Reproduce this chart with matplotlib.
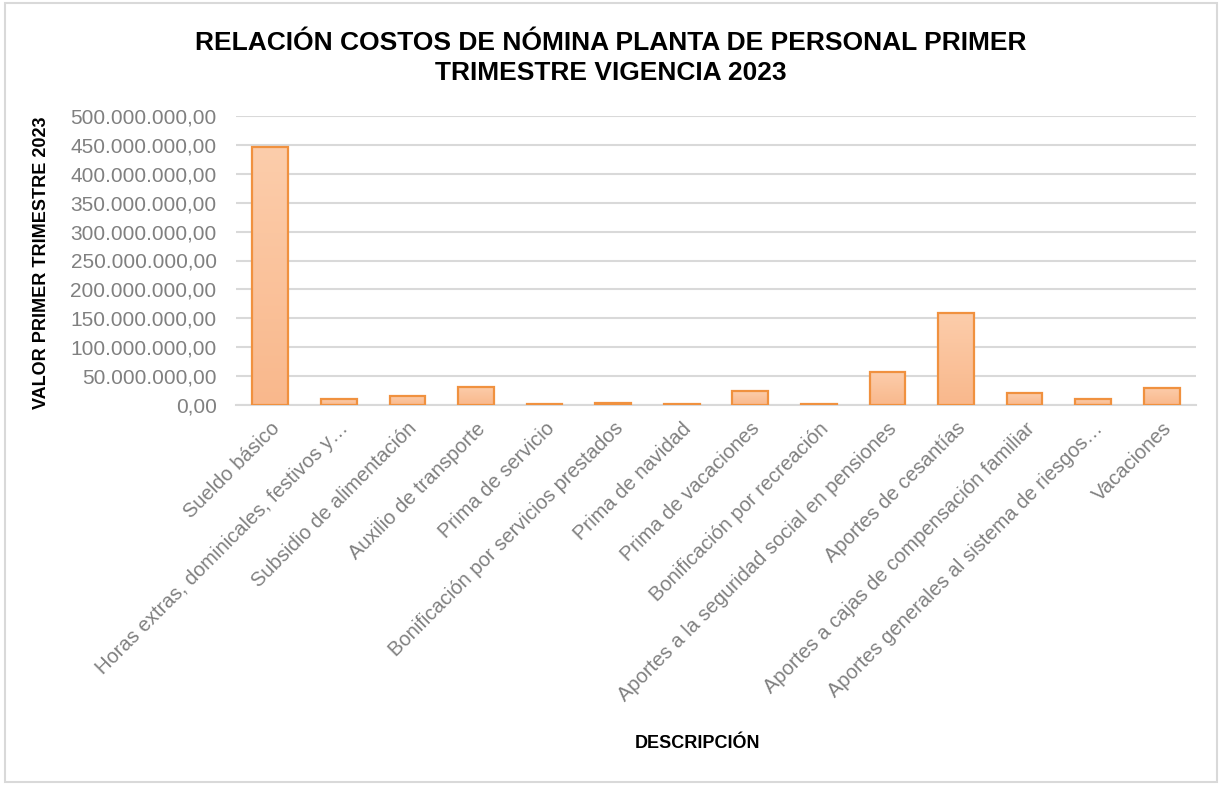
import numpy as np
import matplotlib.pyplot as plt
from matplotlib.ticker import FuncFormatter
from matplotlib.patches import Rectangle
from matplotlib.colors import LinearSegmentedColormap

plt.rcParams['font.family'] = ['Liberation Sans', 'DejaVu Sans']

# Conceptos de nómina (etiquetas tal como aparecen en el gráfico)
categorias = [
    "Sueldo básico",
    "Horas extras, dominicales, festivos y…",
    "Subsidio de alimentación",
    "Auxilio de transporte",
    "Prima de servicio",
    "Bonificación por servicios prestados",
    "Prima de navidad",
    "Prima de vacaciones",
    "Bonificación por recreación",
    "Aportes a la seguridad social en pensiones",
    "Aportes de cesantías",
    "Aportes a cajas de compensación familiar",
    "Aportes generales al sistema de riesgos…",
    "Vacaciones",
]

# Valores estimados (pesos)
valores = [446e6, 10e6, 16e6, 32e6, 1.5e6, 3e6, 1.2e6, 24e6,
           1e6, 57e6, 160e6, 20e6, 10e6, 30e6]

y_ticks = np.arange(0, 500e6 + 1, 50e6)


def formato_pesos(v, pos):
    s = f"{v:,.2f}"
    return s.replace(",", "X").replace(".", ",").replace("X", ".")


fig = plt.figure(figsize=(12.22, 7.85), dpi=100)
ax = fig.add_axes([236 / 1222, (785 - 405) / 785, 960 / 1222, 289 / 785])

x = np.arange(len(categorias))
barras = ax.bar(x, valores, width=0.52, color="none", edgecolor="#F0913F",
                linewidth=1.6, zorder=4)

# degradado vertical dentro de cada barra
degradado = LinearSegmentedColormap.from_list("durazno", ["#F9B88C", "#FCCDAB"])
grad = np.linspace(0, 1, 256).reshape(-1, 1)
for b in barras:
    x0, y0 = b.get_x(), b.get_y()
    im = ax.imshow(grad, cmap=degradado, origin="lower", aspect="auto",
                   extent=[x0, x0 + b.get_width(), y0, y0 + b.get_height()],
                   zorder=3)
    im.set_clip_path(b)

ax.set_xlim(-0.5, len(categorias) - 0.5)
ax.set_ylim(0, 500e6)
ax.set_yticks(y_ticks)
ax.yaxis.set_major_formatter(FuncFormatter(formato_pesos))
ax.grid(axis="y", color="#D9D9D9", linewidth=1.5, zorder=0)

ax.set_xticks(x)
ax.set_xticklabels(categorias, rotation=45, ha="right", rotation_mode="anchor")
ax.tick_params(axis="both", length=0, labelsize=15, colors="#808080")
ax.tick_params(axis="x", labelsize=14.5, pad=10)
ax.tick_params(axis="y", pad=14)

for side in ["top", "right", "left"]:
    ax.spines[side].set_visible(False)
ax.spines["bottom"].set_color("#D9D9D9")
ax.spines["bottom"].set_linewidth(1.5)

fig.text(0.5, 0.96, "RELACIÓN COSTOS DE NÓMINA PLANTA DE PERSONAL PRIMER\nTRIMESTRE VIGENCIA 2023",
         ha="center", va="top", fontsize=19, fontweight="bold", linespacing=1.3)
fig.text(42 / 1222, (785 - 263) / 785, "VALOR PRIMER TRIMESTRE 2023", rotation=90,
         ha="center", va="center", fontsize=13, fontweight="bold")
fig.text(698 / 1222, (785 - 744) / 785, "DESCRIPCIÓN", ha="center", va="center",
         fontsize=13, fontweight="bold")

fig.patches.append(Rectangle((0.004, 0.004), 0.992, 0.992, transform=fig.transFigure,
                             fill=False, edgecolor="#D9D9D9", linewidth=1.5))

fig.savefig("out.png", dpi=100)
